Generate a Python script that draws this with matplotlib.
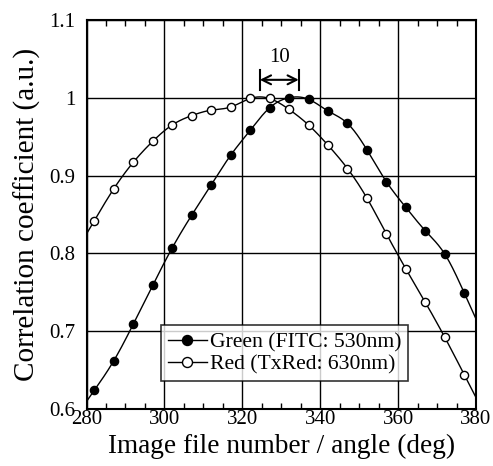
import numpy as np
import matplotlib
matplotlib.use('Agg')
import matplotlib.pyplot as plt
from matplotlib.ticker import MultipleLocator

plt.rcParams['font.family'] = ['Liberation Serif', 'DejaVu Serif']

# image file number / angle (deg)
angle = [282, 287, 292, 297, 302, 307, 312, 317, 322, 327,
         332, 337, 342, 347, 352, 357, 362, 367, 372, 377]
green = [0.624, 0.662, 0.709, 0.759, 0.807, 0.849, 0.888, 0.926, 0.958, 0.987,
         1.000, 0.998, 0.983, 0.967, 0.933, 0.892, 0.859, 0.829, 0.799, 0.749]
red = [0.842, 0.883, 0.917, 0.944, 0.965, 0.977, 0.984, 0.988, 0.999, 0.999,
       0.985, 0.965, 0.939, 0.909, 0.871, 0.825, 0.780, 0.737, 0.692, 0.644]
green_label = 'Green (FITC: 530nm)'
red_label = 'Red (TxRed: 630nm)'
peak_green = 334.5
peak_red = 324.5
shift_label = '10'


def natural_spline(x, y, xs):
    # natural cubic spline, linear beyond the end points
    x = np.asarray(x, float)
    y = np.asarray(y, float)
    n = len(x)
    h = np.diff(x)
    A = np.zeros((n, n))
    b = np.zeros(n)
    A[0, 0] = A[-1, -1] = 1
    for i in range(1, n - 1):
        A[i, i - 1] = h[i - 1]
        A[i, i] = 2 * (h[i - 1] + h[i])
        A[i, i + 1] = h[i]
        b[i] = 6 * ((y[i + 1] - y[i]) / h[i] - (y[i] - y[i - 1]) / h[i - 1])
    m = np.linalg.solve(A, b)
    out = np.empty_like(xs)
    for j, t in enumerate(xs):
        if t <= x[0]:
            s = (y[1] - y[0]) / h[0] - h[0] * (2 * m[0] + m[1]) / 6
            out[j] = y[0] + s * (t - x[0])
            continue
        if t >= x[-1]:
            s = (y[-1] - y[-2]) / h[-1] + h[-1] * (m[-2] + 2 * m[-1]) / 6
            out[j] = y[-1] + s * (t - x[-1])
            continue
        i = min(np.searchsorted(x, t) - 1, n - 2)
        a = (x[i + 1] - t) / h[i]
        c = (t - x[i]) / h[i]
        out[j] = (a * y[i] + c * y[i + 1]
                  + ((a ** 3 - a) * m[i] + (c ** 3 - c) * m[i + 1]) * h[i] ** 2 / 6)
    return out


fig = plt.figure(figsize=(4.93, 4.66), dpi=100)
ax = fig.add_axes([0.1755, 0.1223, 0.790, 0.835])

# smooth curves drawn under the markers
xs = np.linspace(280, 380, 500)
for vals in (green, red):
    ax.plot(xs, natural_spline(angle, vals, xs), color='black', lw=1.0, zorder=2)

ax.plot(angle, green, 'o', color='black', ms=5.9, zorder=3)
ax.plot(angle, red, 'o', mfc='white', mec='black', mew=1.0, ms=5.9, zorder=3)

# legend proxies: line with marker
ax.plot([], [], '-o', color='black', ms=7.2, lw=1.0, label=green_label)
ax.plot([], [], '-o', color='black', mfc='white', ms=7.2, lw=1.0, label=red_label)
leg = ax.legend(loc='lower center', bbox_to_anchor=(0.509, 0.072), fontsize=15.6,
                frameon=True, fancybox=False, edgecolor='black',
                handlelength=1.8, handletextpad=0.15, borderpad=0.3,
                labelspacing=0.1, borderaxespad=0)
leg.get_frame().set_linewidth(1.2)

# peak shift annotation
y_arrow = 1.023
ax.annotate('', xy=(peak_red, y_arrow), xytext=(peak_green, y_arrow),
            arrowprops=dict(arrowstyle='<->', color='black', lw=1.5,
                            shrinkA=0, shrinkB=0, mutation_scale=16))
ax.plot([peak_red, peak_red], [1.010, 1.036], color='black', lw=1.5)
ax.plot([peak_green, peak_green], [1.010, 1.036], color='black', lw=1.5)
ax.text((peak_red + peak_green) / 2, 1.052, shift_label, ha='center', va='center',
        fontsize=15)

ax.set_xlim(280, 380)
ax.set_ylim(0.6, 1.1)
ax.xaxis.set_major_locator(MultipleLocator(20))
ax.xaxis.set_minor_locator(MultipleLocator(5))
ax.set_yticks([0.6, 0.7, 0.8, 0.9, 1.0, 1.1])
ax.set_yticklabels(['0.6', '0.7', '0.8', '0.9', '1', '1.1'])
ax.grid(True, which='major', color='black', lw=1.0)
ax.tick_params(which='both', direction='in', top=True, right=True, labelsize=15)
ax.tick_params(which='major', length=0)
ax.tick_params(which='minor', length=4, width=1.0)
ax.tick_params(axis='y', which='major', pad=8)
ax.tick_params(axis='x', which='major', pad=1)
for s in ax.spines.values():
    s.set_linewidth(1.5)

ax.set_xlabel('Image file number / angle (deg)', fontsize=19.6, labelpad=3)
ax.set_ylabel('Correlation coefficient (a.u.)', fontsize=21, labelpad=6)

fig.savefig('out.png', dpi=100)
